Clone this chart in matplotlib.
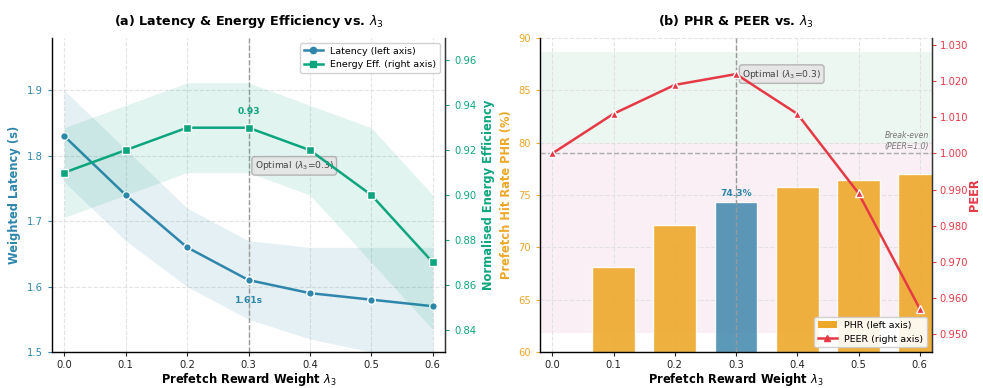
import matplotlib
matplotlib.use("Agg")
import matplotlib.pyplot as plt
import numpy as np
from matplotlib.patches import Patch
from matplotlib.lines import Line2D

# ---- data ----
lam = [0.0, 0.1, 0.2, 0.3, 0.4, 0.5, 0.6]
latency = [1.83, 1.74, 1.66, 1.61, 1.59, 1.58, 1.57]
latency_err = [0.07, 0.07, 0.06, 0.06, 0.07, 0.08, 0.09]
energy = [0.91, 0.92, 0.93, 0.93, 0.92, 0.90, 0.87]
energy_err = [0.02, 0.02, 0.02, 0.02, 0.02, 0.03, 0.03]
phr = [0.0, 68.1, 72.1, 74.3, 75.8, 76.4, 77.0]
peer = [1.000, 1.011, 1.019, 1.022, 1.011, 0.989, 0.957]
xticks = [0.0, 0.1, 0.2, 0.3, 0.4, 0.5, 0.6]
lat_ticks = [1.5, 1.6, 1.7, 1.8, 1.9]
en_ticks = [0.84, 0.86, 0.88, 0.90, 0.92, 0.94, 0.96]
phr_ticks = [60, 65, 70, 75, 80, 85, 90]
peer_ticks = [0.95, 0.96, 0.97, 0.98, 0.99, 1.00, 1.01, 1.02, 1.03]

C_LAT = "#2E86AB"
C_EN = "#0DA57E"
C_PHR = "#EDA82A"
C_HI = "#4A8DB0"
C_PEER = "#E63946"

TICK = 7.2
LAB = 8.3
TIT = 9.2
ANN = 6.6
LEG = 6.8

plt.rcParams['font.family'] = ['DejaVu Sans']
plt.rcParams['xtick.major.size'] = 3
plt.rcParams['ytick.major.size'] = 3
plt.rcParams['xtick.major.pad'] = 3
fig = plt.figure(figsize=(9.83, 3.88), dpi=100)
W, H = 983, 388
ax1 = fig.add_axes([52 / W, 1 - 352 / H, (445 - 52) / W, (352 - 38) / H])
ax3 = fig.add_axes([540 / W, 1 - 352 / H, (932 - 540) / W, (352 - 38) / H])

def style(ax):
    ax.grid(True, linestyle="--", color="#dddddd", linewidth=0.8, alpha=0.8)
    ax.set_axisbelow(True)
    ax.spines["top"].set_visible(False)
    for s in ["left", "bottom", "right"]:
        ax.spines[s].set_color("#333333")
        ax.spines[s].set_linewidth(1.0)
    ax.set_xlim(-0.02, 0.62)
    ax.set_xticks(xticks)
    ax.set_xticklabels([f"{v:.1f}" for v in xticks])
    ax.tick_params(axis="x", labelsize=TICK, colors="#222222")
    ax.set_xlabel(r"Prefetch Reward Weight $\lambda_3$", fontsize=LAB, fontweight="bold", labelpad=0.5)

# ---- panel (a) ----
style(ax1)
lam_a = np.array(lam)
lat = np.array(latency); le = np.array(latency_err)
en = np.array(energy); ee = np.array(energy_err)
ax1.fill_between(lam_a, lat - le, lat + le, color=C_LAT, alpha=0.12, linewidth=0)
ax1.plot(lam_a, lat, color=C_LAT, marker="o", markersize=5.5, linewidth=1.8,
         markeredgecolor="white", markeredgewidth=1.0, zorder=5)
ax1.set_ylim(1.5, 1.98)
ax1.set_yticks(lat_ticks)
ax1.tick_params(axis="y", colors=C_LAT, labelsize=TICK)
ax1.set_ylabel("Weighted Latency (s)", color=C_LAT, fontsize=LAB, fontweight="bold")
ax1.axvline(0.3, color="#999999", linestyle="--", linewidth=1.0)
ax1.text(0.3, lat[3] - 0.025, "1.61s", color=C_LAT, fontsize=ANN, fontweight="bold",
         ha="center", va="top")

ax2 = ax1.twinx()
ax2.spines["top"].set_visible(False)
ax2.spines["right"].set_color("#333333")
ax2.fill_between(lam_a, en - ee, en + ee, color=C_EN, alpha=0.12, linewidth=0)
ax2.plot(lam_a, en, color=C_EN, marker="s", markersize=5.8, linewidth=1.8,
         markeredgecolor="white", markeredgewidth=1.0, zorder=5)
ax2.set_ylim(0.83, 0.97)
ax2.set_yticks(en_ticks)
ax2.set_yticklabels([f"{v:.2f}" for v in en_ticks])
ax2.tick_params(axis="y", colors=C_EN, labelsize=TICK)
ax2.set_ylabel("Normalised Energy Efficiency", color=C_EN, fontsize=LAB, fontweight="bold")
ax2.text(0.3, en[3] + 0.005, "0.93", color=C_EN, fontsize=ANN, fontweight="bold",
         ha="center", va="bottom")
ax2.text(0.31, 0.913, r"Optimal ($\lambda_3$=0.3)", fontsize=ANN, color="#444444",
         ha="left", va="center",
         bbox=dict(boxstyle="round,pad=0.3", facecolor="#e4e4e4", edgecolor="#aaaaaa", alpha=0.85))
h = [Line2D([], [], color=C_LAT, marker="o", markersize=4.5, linewidth=1.8, label="Latency (left axis)"),
     Line2D([], [], color=C_EN, marker="s", markersize=4.5, linewidth=1.8, label="Energy Eff. (right axis)")]
ax2.legend(handles=h, loc="upper right", fontsize=LEG, framealpha=0.9, edgecolor="#cccccc")
ax1.set_title(r"(a) Latency & Energy Efficiency vs. $\lambda_3$", fontsize=TIT, fontweight="bold", pad=9)

# ---- panel (b) ----
style(ax3)
ax3.axhspan(80.0, 88.7, color="#d8efe0", alpha=0.45, linewidth=0, zorder=0)
ax3.axhspan(61.8, 80.0, color="#f5dde8", alpha=0.45, linewidth=0, zorder=0)
colors = [C_HI if v == 0.3 else C_PHR for v in lam]
ax3.bar(lam, phr, width=0.07, color=colors, alpha=0.9, edgecolor="white", linewidth=1.0, zorder=2)
ax3.set_ylim(60, 90)
ax3.set_yticks(phr_ticks)
ax3.tick_params(axis="y", colors=C_PHR, labelsize=TICK)
ax3.set_ylabel("Prefetch Hit Rate PHR (%)", color=C_PHR, fontsize=LAB, fontweight="bold")
ax3.axvline(0.3, color="#999999", linestyle="--", linewidth=1.0, zorder=3)
ax3.text(0.3, phr[3] + 0.4, "74.3%", color=C_LAT, fontsize=ANN, fontweight="bold",
         ha="center", va="bottom", zorder=6)

ax4 = ax3.twinx()
ax4.spines["top"].set_visible(False)
ax4.spines["right"].set_color("#333333")
ax4.axhline(1.0, color="#aaaaaa", linestyle="--", linewidth=1.0, zorder=1)
ax4.text(0.615, 1.0008, "Break-even\n(PEER=1.0)", fontsize=5.6, style="italic",
         color="#777777", ha="right", va="bottom")
ax4.plot(lam, peer, color=C_PEER, marker="^", markersize=6, linewidth=1.8,
         markeredgecolor="white", markeredgewidth=1.0, zorder=5)
ax4.set_ylim(0.945, 1.032)
ax4.set_yticks(peer_ticks)
ax4.set_yticklabels([f"{v:.3f}" for v in peer_ticks])
ax4.tick_params(axis="y", colors=C_PEER, labelsize=TICK, pad=2.5)
ax4.set_ylabel("PEER", color=C_PEER, fontsize=LAB, fontweight="bold", labelpad=0)
ax4.text(0.31, 1.022, r"Optimal ($\lambda_3$=0.3)", fontsize=ANN, color="#444444",
         ha="left", va="center",
         bbox=dict(boxstyle="round,pad=0.3", facecolor="#e4e4e4", edgecolor="#aaaaaa", alpha=0.85))
h2 = [Patch(facecolor=C_PHR, label="PHR (left axis)"),
      Line2D([], [], color=C_PEER, marker="^", markersize=4.5, linewidth=1.8, label="PEER (right axis)")]
ax4.legend(handles=h2, loc="lower right", fontsize=LEG, framealpha=0.9, edgecolor="#cccccc")
ax3.set_title(r"(b) PHR & PEER vs. $\lambda_3$", fontsize=TIT, fontweight="bold", pad=9)

fig.savefig("out.png", dpi=100)
